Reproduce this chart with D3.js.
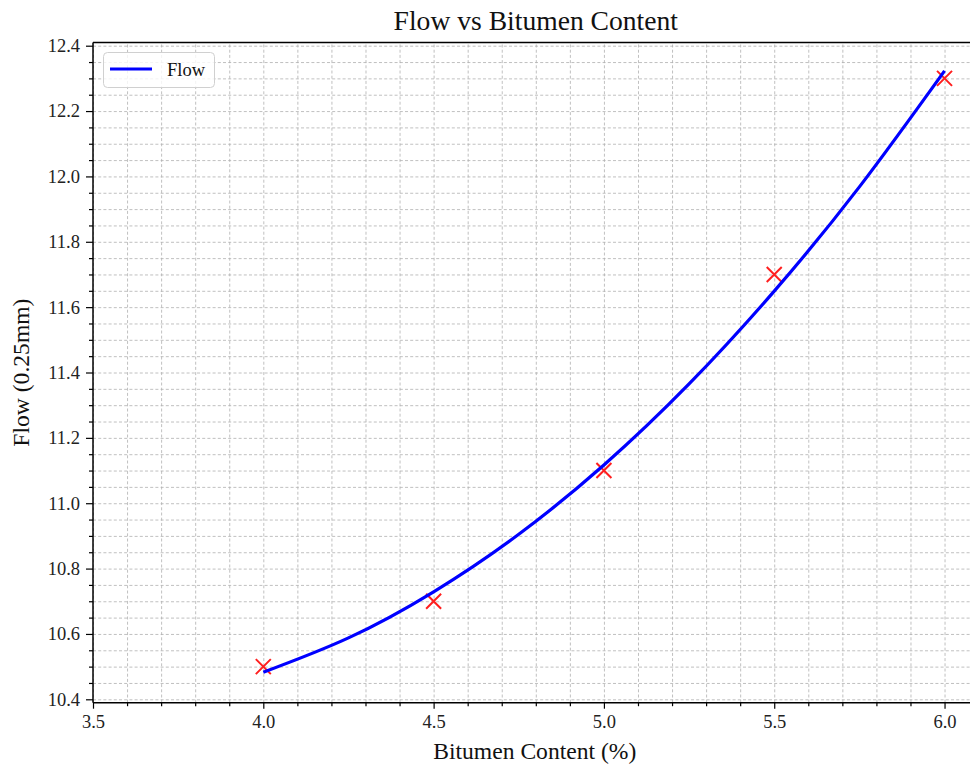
<!DOCTYPE html>
<html>
<head>
<meta charset="utf-8">
<script src="https://cdn.jsdelivr.net/npm/d3@7"></script>
<style>
  html, body { margin: 0; padding: 0; background: #fff; }
  svg { display: block; font-family: "Liberation Serif", "Times New Roman", serif; }
</style>
</head>
<body>
<svg id="chart" width="970" height="764"></svg>
<script>
// Measured samples: bitumen content (%) vs flow (0.25 mm)
const sampleBitumen = [4.0, 4.5, 5.0, 5.5, 6.0];
const sampleFlow = [10.5, 10.7, 11.1, 11.7, 12.3];

// Fitted trend line, read at quarter-percent steps
const trendBitumen = [4.0, 4.25, 4.5, 4.75, 5.0, 5.25, 5.5, 5.75, 6.0];
const trendFlow = [10.483, 10.588, 10.729, 10.905, 11.117, 11.365, 11.649, 11.968, 12.323];

// Axis ticks
const xMajorTicks = [3.5, 4.0, 4.5, 5.0, 5.5, 6.0];
const xTickLabels = ["3.5", "4.0", "4.5", "5.0", "5.5", "6.0"];
const xMinorTicks = [3.6, 3.7, 3.8, 3.9, 4.1, 4.2, 4.3, 4.4, 4.6, 4.7, 4.8, 4.9,
                     5.1, 5.2, 5.3, 5.4, 5.6, 5.7, 5.8, 5.9, 6.1];
const yMajorTicks = [10.4, 10.6, 10.8, 11.0, 11.2, 11.4, 11.6, 11.8, 12.0, 12.2, 12.4];
const yTickLabels = ["10.4", "10.6", "10.8", "11.0", "11.2", "11.4", "11.6", "11.8", "12.0", "12.2", "12.4"];
const yMinorTicks = [10.45, 10.5, 10.55, 10.65, 10.7, 10.75, 10.85, 10.9, 10.95,
                     11.05, 11.1, 11.15, 11.25, 11.3, 11.35, 11.45, 11.5, 11.55,
                     11.65, 11.7, 11.75, 11.85, 11.9, 11.95, 12.05, 12.1, 12.15,
                     12.25, 12.3, 12.35];

const title = "Flow vs Bitumen Content";
const xLabel = "Bitumen Content (%)";
const yLabel = "Flow (0.25mm)";
const seriesName = "Flow";

const svg = d3.select("#chart");
const plotLeft = 93, plotTop = 42.5, plotRight = 978.6, plotBottom = 702.7;
const plotW = plotRight - plotLeft, plotH = plotBottom - plotTop;

const x = d3.scaleLinear().domain([3.5, 6.1]).range([plotLeft, plotRight]);
const y = d3.scaleLinear().domain([10.3896, 12.4098]).range([plotBottom, plotTop]);

svg.append("defs").append("clipPath").attr("id", "plotClip")
  .append("rect").attr("x", plotLeft).attr("y", plotTop).attr("width", plotW).attr("height", plotH);

// Grid (major and minor share one dashed style)
const gridStyle = g => {
  g.select(".domain").remove();
  g.selectAll(".tick line")
    .attr("class", "grid")
    .attr("stroke", "#b0b0b0")
    .attr("stroke-width", 0.8)
    .attr("stroke-dasharray", "3,2.2");
};
const allX = xMajorTicks.concat(xMinorTicks);
const allY = yMajorTicks.concat(yMinorTicks);
svg.append("g").attr("transform", `translate(0,${plotBottom})`)
  .call(d3.axisBottom(x).tickValues(allX).tickSize(-plotH).tickFormat(""))
  .call(gridStyle);
svg.append("g").attr("transform", `translate(${plotLeft},0)`)
  .call(d3.axisLeft(y).tickValues(allY).tickSize(-plotW).tickFormat(""))
  .call(gridStyle);

// Data layers
const plot = svg.append("g").attr("clip-path", "url(#plotClip)");

const m = 7.5;
plot.selectAll(".marker").data(sampleBitumen.map((b, i) => [b, sampleFlow[i]]))
  .enter().append("path")
  .attr("class", "marker")
  .attr("transform", d => `translate(${x(d[0])},${y(d[1])})`)
  .attr("d", `M${-m},${-m}L${m},${m}M${-m},${m}L${m},${-m}`)
  .attr("stroke", "#ff1f1f")
  .attr("stroke-width", 2)
  .attr("fill", "none");

const line = d3.line().x(d => x(d[0])).y(d => y(d[1])).curve(d3.curveNatural);
plot.append("path")
  .datum(trendBitumen.map((b, i) => [b, trendFlow[i]]))
  .attr("d", line)
  .attr("fill", "none")
  .attr("stroke", "#0000ff")
  .attr("stroke-width", 3.2);

// Axes
const tickFont = 18.5;
const styleTicks = g => g.selectAll(".tick line").attr("stroke", "#000").attr("stroke-width", 1.2);
const xAxisMajor = svg.append("g").attr("transform", `translate(0,${plotBottom})`)
  .call(d3.axisBottom(x).tickValues(xMajorTicks).tickSize(6).tickPadding(6)
    .tickFormat((d, i) => xTickLabels[i]))
  .call(styleTicks);
svg.append("g").attr("transform", `translate(0,${plotBottom})`)
  .call(d3.axisBottom(x).tickValues(xMinorTicks).tickSize(3.5).tickFormat(""))
  .call(g => g.select(".domain").remove())
  .call(styleTicks);
const yAxisMajor = svg.append("g").attr("transform", `translate(${plotLeft},0)`)
  .call(d3.axisLeft(y).tickValues(yMajorTicks).tickSize(7).tickPadding(6)
    .tickFormat((d, i) => yTickLabels[i]))
  .call(styleTicks);
svg.append("g").attr("transform", `translate(${plotLeft},0)`)
  .call(d3.axisLeft(y).tickValues(yMinorTicks).tickSize(4).tickFormat(""))
  .call(g => g.select(".domain").remove())
  .call(styleTicks);

[xAxisMajor, yAxisMajor].forEach(g => {
  g.select(".domain").remove();
  g.selectAll("text").attr("font-family", "Liberation Serif, Times New Roman, serif")
    .attr("font-size", tickFont).attr("fill", "#222");
});

// Spines: left, bottom, top (right edge falls outside the canvas)
const spine = (x1, y1, x2, y2) => svg.append("line")
  .attr("x1", x1).attr("y1", y1).attr("x2", x2).attr("y2", y2)
  .attr("stroke", "#000").attr("stroke-width", 1.5);
spine(plotLeft, plotTop, plotLeft, plotBottom);
spine(plotLeft, plotBottom, plotRight, plotBottom);
spine(plotLeft, plotTop, plotRight, plotTop);
spine(plotRight, plotTop, plotRight, plotBottom);

// Labels
svg.append("text").attr("x", (plotLeft + plotRight) / 2).attr("y", 30)
  .attr("text-anchor", "middle").attr("font-size", 27.6).attr("fill", "#111")
  .text(title);
svg.append("text").attr("x", (plotLeft + plotRight) / 2 - 1).attr("y", 759)
  .attr("text-anchor", "middle").attr("font-size", 23.6).attr("fill", "#111")
  .text(xLabel);
svg.append("text")
  .attr("transform", `translate(29,${(plotTop + plotBottom) / 2}) rotate(-90)`)
  .attr("text-anchor", "middle").attr("font-size", 23.6).attr("fill", "#111")
  .text(yLabel);

// Legend
const lg = svg.append("g");
lg.append("rect").attr("x", 103.5).attr("y", 52.5).attr("width", 111).attr("height", 35)
  .attr("rx", 4).attr("fill", "#fff").attr("fill-opacity", 0.8)
  .attr("stroke", "#d0d0d0").attr("stroke-width", 1);
lg.append("line").attr("x1", 110).attr("x2", 152).attr("y1", 69).attr("y2", 69)
  .attr("stroke", "#0000ff").attr("stroke-width", 3.2);
lg.append("text").attr("x", 167).attr("y", 75.5).attr("font-size", 18.5).attr("fill", "#111")
  .text(seriesName);
</script>
</body>
</html>
